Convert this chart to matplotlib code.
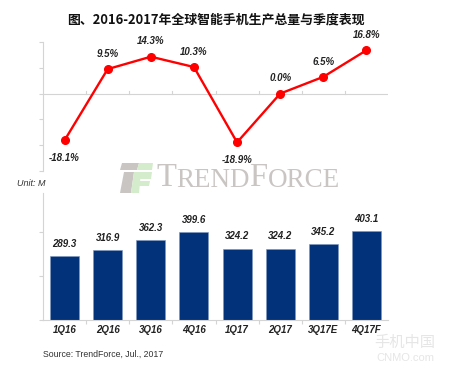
import matplotlib
matplotlib.use("Agg")
import matplotlib.pyplot as plt
from matplotlib.patches import Polygon

quarters = ["1Q16", "2Q16", "3Q16", "4Q16", "1Q17", "2Q17", "3Q17E", "4Q17F"]
production = [289.3, 316.9, 362.3, 399.6, 324.2, 324.2, 345.2, 403.1]
growth = [-18.1, 9.5, 14.3, 10.3, -18.9, 0.0, 6.5, 16.8]

W, H = 455, 372
BAR_COLOR = "#02327a"
LINE_COLOR = "#ff0000"
AXIS_COLOR = "#d4d4d4"
LABEL_FONT = ["Liberation Sans", "DejaVu Sans"]


def fx(x):
    return x / W


def fy(y):
    return 1 - y / H


fig = plt.figure(figsize=(W / 100, H / 100), dpi=100)
fig.patch.set_facecolor("white")

# title
fig.text(fx(216), fy(20), "图、2016-2017年全球智能手机生产总量与季度表现",
         ha="center", va="center", fontsize=9.3, fontweight="bold",
         family=["Noto Sans CJK SC", "DejaVu Sans"], color="#111111")

x = list(range(len(quarters)))

# --- top: growth line ---
ax1 = fig.add_axes([fx(43), fy(171), fx(388) - fx(43), (171 - 42) / H])
ax1.plot(x, growth, color=LINE_COLOR, lw=1.7, marker="o", ms=5.5, zorder=3)
ax1.set_xlim(-0.5, 7.5)
ax1.set_ylim(-30, 20)
ax1.set_yticks([-30, -20, -10, 0, 10, 20])
ax1.set_yticklabels([])
ax1.axhline(0, color=AXIS_COLOR, lw=0.8, zorder=1)
for b in [0.5 + i for i in range(7)]:
    ax1.plot([b, b], [0, 1.2], color=AXIS_COLOR, lw=0.8, zorder=1)
ax1.set_xticks([])
for s in ["top", "right", "bottom"]:
    ax1.spines[s].set_visible(False)
ax1.spines["left"].set_color(AXIS_COLOR)
ax1.spines["left"].set_linewidth(0.8)
ax1.tick_params(axis="y", length=3, width=0.8, color=AXIS_COLOR)
ax1.patch.set_alpha(0)

for xi, v in zip(x, growth):
    off = 11 if v >= 0 else -13
    ax1.annotate(f"{v:.1f}%", (xi, v), xytext=(0, off), textcoords="offset points",
                 ha="center", va="center", fontsize=7, fontweight="bold",
                 fontstyle="italic", family=LABEL_FONT, color="#222222")

# --- bottom: production bars ---
ax2 = fig.add_axes([fx(43), fy(320), fx(388) - fx(43), (320 - 193) / H])
ax2.bar(x, production, width=0.67, color=BAR_COLOR, edgecolor="#7f95bf",
        linewidth=0.4, zorder=2)
ax2.set_xlim(-0.5, 7.5)
ax2.set_ylim(0, 578)
ax2.set_yticks([0, 200, 400])
ax2.set_yticklabels([])
ax2.set_xticks([0.5 + i for i in range(7)])
ax2.set_xticklabels([])
ax2.tick_params(axis="x", length=3, width=0.8, color=AXIS_COLOR)
ax2.tick_params(axis="y", length=3, width=0.8, color=AXIS_COLOR)
for s in ["top", "right"]:
    ax2.spines[s].set_visible(False)
for s in ["left", "bottom"]:
    ax2.spines[s].set_color(AXIS_COLOR)
    ax2.spines[s].set_linewidth(0.8)
ax2.patch.set_alpha(0)

for xi, v, q in zip(x, production, quarters):
    ax2.annotate(f"{v:.1f}", (xi, v), xytext=(0, 9), textcoords="offset points",
                 ha="center", va="center", fontsize=7, fontweight="bold",
                 fontstyle="italic", family=LABEL_FONT, color="#222222")
    ax2.annotate(q, (xi, 0), xytext=(0, -7.5), textcoords="offset points",
                 ha="center", va="center", fontsize=7, fontweight="bold",
                 fontstyle="italic", family=LABEL_FONT, color="#222222")

fig.text(fx(17), fy(183), "Unit: M", ha="left", va="center", fontsize=6.5,
         fontstyle="italic", family=LABEL_FONT, color="#333333")
fig.text(fx(43), fy(354), "Source: TrendForce, Jul., 2017", ha="left", va="center",
         fontsize=6.3, family=LABEL_FONT, color="#333333")

# --- TrendForce watermark ---
gray = "#c9c5c3"
green = "#d4eccb"


def poly(pts, color):
    fig.patches.append(Polygon([(fx(a), fy(b)) for a, b in pts], closed=True,
                               transform=fig.transFigure, facecolor=color,
                               edgecolor="none", zorder=0))


poly([(122, 163), (139, 163), (137, 170), (120, 170)], gray)
poly([(139, 163), (153, 163), (152, 170), (137, 170)], green)
poly([(124, 172), (134, 172), (131, 193), (120, 193)], gray)
poly([(136, 172), (152, 172), (151, 179), (135, 179)], green)
poly([(135, 181), (150, 181), (149, 186), (134, 186)], green)
poly([(134, 172), (141, 172), (139, 193), (131, 193)], green)

# small-caps style wordmark, each piece placed after the previous one
prev = fig.text(fx(156), fy(193), "T", ha="left", va="bottom", fontsize=23.5,
                family=["Liberation Serif"], color=gray, zorder=0)
for s, size in [("REND", 19.5), ("F", 23.5), ("ORCE", 19.5)]:
    prev = fig.add_artist(plt.Annotation(
        s, xy=(1, 0), xycoords=prev, xytext=(0, 0), textcoords="offset points",
        ha="left", va="bottom", fontsize=size, family=["Liberation Serif"],
        color=gray, annotation_clip=False))

# CNMO watermark
fig.text(fx(405), fy(342), "手机中国", ha="center", va="center", fontsize=11,
         family=["Noto Sans CJK SC"], color="#e6e6e6")
fig.text(fx(405), fy(358), "CNMO.com", ha="center", va="center", fontsize=8,
         family=LABEL_FONT, color="#e6e6e6")

fig.savefig("out.png", dpi=100, facecolor="white")
